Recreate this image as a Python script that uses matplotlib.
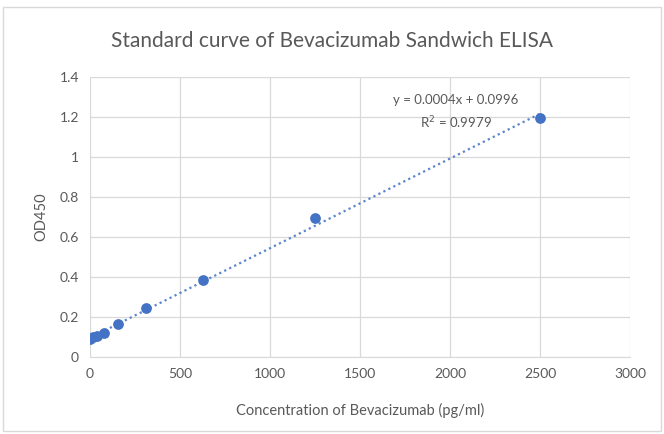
import numpy as np
import matplotlib
matplotlib.use("Agg")
import matplotlib.pyplot as plt
from matplotlib.patches import Rectangle

conc = [0, 19.5, 39, 78, 156, 312.5, 625, 1250, 2500]
od450 = [0.09, 0.10, 0.105, 0.12, 0.165, 0.245, 0.385, 0.695, 1.195]
x_ticks = [0, 500, 1000, 1500, 2000, 2500, 3000]
y_ticks = [0, 0.2, 0.4, 0.6, 0.8, 1.0, 1.2, 1.4]
y_tick_labels = ["0", "0.2", "0.4", "0.6", "0.8", "1", "1.2", "1.4"]

plt.rcParams['font.family'] = ['Lato', 'DejaVu Sans']
grey = "#595959"

fig = plt.figure(figsize=(6.64, 4.34), dpi=100)
fig.patches.append(Rectangle((0.005, 0.008), 0.99, 0.975, transform=fig.transFigure,
                             fill=False, edgecolor="#d9d9d9", linewidth=1.0))
ax = fig.add_axes([0.1355, 0.177, 0.8135, 0.6456])

slope, intercept = np.polyfit(conc, od450, 1)
xl = np.array([0, max(conc)])
ax.plot(xl, slope * xl + intercept, linestyle=(0, (1, 1.5)), color="#5b85cc", linewidth=1.6, zorder=2)
ax.scatter(conc, od450, s=45, color="#4472c4", zorder=3)

ax.set_xlim(0, 3000)
ax.set_ylim(0, 1.4)
ax.set_xticks(x_ticks)
ax.set_yticks(y_ticks)
ax.set_yticklabels(y_tick_labels)
ax.grid(True, color="#d9d9d9", linewidth=0.9)
ax.set_axisbelow(True)
for s in ["top", "right", "left"]:
    ax.spines[s].set_visible(False)
ax.spines["bottom"].set_color("#d9d9d9")
ax.tick_params(length=0, labelsize=10, colors=grey, pad=8)

ax.set_xlabel("Concentration of Bevacizumab (pg/ml)", fontsize=10.5, color=grey, labelpad=16)
ax.set_ylabel("OD450", fontsize=10.5, color=grey, labelpad=8)
fig.text(0.5, 0.905, "Standard curve of Bevacizumab Sandwich ELISA", ha="center", va="center",
         fontsize=15, color=grey)
ax.text(2030, 1.315, "y = 0.0004x + 0.0996\nR$^2$ = 0.9979", ha="center", va="top",
        fontsize=9.5, color=grey, linespacing=1.6)

fig.savefig("out.png", dpi=100)
